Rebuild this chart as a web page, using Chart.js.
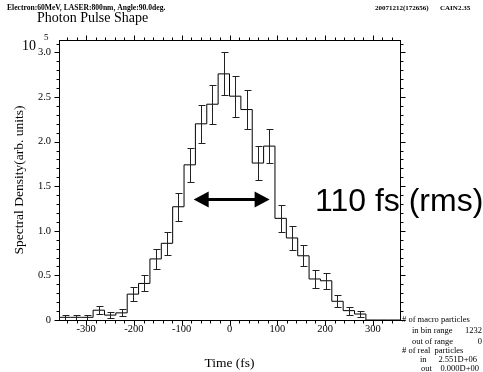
<!DOCTYPE html>
<html>
<head>
<meta charset="utf-8">
<script src="https://cdn.jsdelivr.net/npm/chart.js@4.4.0/dist/chart.umd.min.js"></script>
<style>
  html, body { margin: 0; padding: 0; background: #fff; }
</style>
</head>
<body>
<canvas id="Chart1" width="483" height="372"></canvas>
<script>
// time binning (fs)
var binStart = -357;
var binWidth = 23.8;

// spectral density per bin (x 10^5) and its error
var density = [0.03, 0.03, 0.03, 0.11, 0.055, 0.08, 0.29, 0.41, 0.685, 0.86,
               1.27, 1.74, 2.20, 2.42, 2.76, 2.51, 2.36, 1.76, 1.95, 1.14,
               0.92, 0.72, 0.46, 0.44, 0.21, 0.105, 0.067, 0, 0, 0];
var densityErr = [0.025, 0.025, 0.025, 0.045, 0.03, 0.04, 0.075, 0.09, 0.115, 0.13,
                  0.155, 0.19, 0.215, 0.22, 0.24, 0.23, 0.22, 0.195, 0.19, 0.15,
                  0.135, 0.12, 0.097, 0.09, 0.067, 0.045, 0.03, 0, 0, 0];

var timeLabels = [-300, -200, -100, 0, 100, 200, 300];
var densityLabels = [0, 0.5, 1.0, 1.5, 2.0, 2.5, 3.0];

// rms width marker
var arrowEnds = [-75, 84];
var arrowLevel = 1.35;

// particle statistics box: label, value
var infoLines = [
	['# of macro particles', ''],
	['in bin range', '1232'],
	['out of range', '0'],
	['# of real  particles', ''],
	['in', '2.551D+06'],
	['out', '0.000D+00']
];

// histogram outline: one point per bin edge
var steps = [];
for (var i = 0; i <= density.length; i++) {
	steps.push({ x: binStart + binWidth * i, y: density[Math.min(i, density.length - 1)] });
}

var serif = '"Liberation Serif", "DejaVu Serif", serif';

var decorations = {
	id: 'decorations',
	afterDatasetsDraw: function (chart) {
		var ctx = chart.ctx;
		var xs = chart.scales.x, ys = chart.scales.y;
		var a = chart.chartArea;
		ctx.save();

		// error bars
		ctx.strokeStyle = '#222';
		ctx.lineWidth = 1;
		for (var i = 0; i < density.length; i++) {
			if (density[i] <= 0) continue;
			var px = Math.round(xs.getPixelForValue(binStart + binWidth * (i + 0.5))) + 0.5;
			var top = Math.round(ys.getPixelForValue(density[i] + densityErr[i])) + 0.5;
			var bot = Math.round(ys.getPixelForValue(Math.max(0, density[i] - densityErr[i]))) + 0.5;
			ctx.beginPath();
			ctx.moveTo(px, top); ctx.lineTo(px, bot);
			ctx.moveTo(px - 3, top); ctx.lineTo(px + 4, top);
			ctx.moveTo(px - 3, bot); ctx.lineTo(px + 4, bot);
			ctx.stroke();
		}

		// frame
		ctx.strokeStyle = '#000';
		var L = Math.round(a.left) + 0.5, R = Math.round(a.right) + 0.5;
		var T = Math.round(a.top) + 0.5, B = Math.round(a.bottom) + 0.5;
		ctx.strokeRect(L, T, R - L, B - T);

		// outward ticks, minor every 20 fs / 0.1
		ctx.beginPath();
		for (var t = -340; t <= 340; t += 20) {
			var x = Math.round(xs.getPixelForValue(t)) + 0.5;
			var len = (t % 100 === 0) ? 5 : 3;
			ctx.moveTo(x, B); ctx.lineTo(x, B + len);
			ctx.moveTo(x, T); ctx.lineTo(x, T - len);
		}
		for (var k = 0; k <= 31; k++) {
			var y = Math.round(ys.getPixelForValue(k / 10)) + 0.5;
			var ylen = (k % 5 === 0) ? 5 : 3;
			ctx.moveTo(L, y); ctx.lineTo(L - ylen, y);
			ctx.moveTo(R, y); ctx.lineTo(R + ylen, y);
		}
		ctx.stroke();

		// double arrow
		var x1 = xs.getPixelForValue(arrowEnds[0]);
		var x2 = xs.getPixelForValue(arrowEnds[1]);
		var ay = ys.getPixelForValue(arrowLevel);
		ctx.fillStyle = '#000';
		ctx.lineWidth = 3;
		ctx.beginPath();
		ctx.moveTo(x1 + 10, ay); ctx.lineTo(x2 - 10, ay);
		ctx.stroke();
		ctx.beginPath();
		ctx.moveTo(x1, ay); ctx.lineTo(x1 + 15, ay - 8); ctx.lineTo(x1 + 15, ay + 8); ctx.closePath();
		ctx.moveTo(x2, ay); ctx.lineTo(x2 - 15, ay - 8); ctx.lineTo(x2 - 15, ay + 8); ctx.closePath();
		ctx.fill();

		// texts
		ctx.fillStyle = '#000';
		ctx.textBaseline = 'alphabetic';
		ctx.textAlign = 'left';
		ctx.font = '32px "Liberation Sans", Arial, sans-serif';
		ctx.fillText('110 fs (rms)', 315, 211);

		ctx.font = 'bold 7.6px ' + serif;
		ctx.fillText('Electron:60MeV, LASER:800nm, Angle:90.0deg.', 7, 10);
		ctx.font = 'bold 7px ' + serif;
		ctx.fillText('20071212(172656)', 375, 10);
		ctx.fillText('CAIN2.35', 440, 10);

		ctx.font = '14px ' + serif;
		ctx.fillText('Photon Pulse Shape', 37, 22);

		ctx.fillText('10', 22, 50);
		ctx.font = '9px ' + serif;
		ctx.fillText('5', 44, 40);

		ctx.font = '13.5px ' + serif;
		ctx.textAlign = 'center';
		ctx.fillText('Time (fs)', (a.left + a.right) / 2, 367);
		ctx.save();
		ctx.translate(23, (a.top + a.bottom) / 2);
		ctx.rotate(-Math.PI / 2);
		ctx.fillText('Spectral Density(arb. units)', 0, 0);
		ctx.restore();

		// statistics box
		var labelX = [402, 412, 412, 402, 420, 421];
		var valueX = [0, 482, 482, 0, 477, 479];
		var lineY = [322, 333, 343.5, 353, 362, 371];
		ctx.font = '8.5px ' + serif;
		for (var n = 0; n < infoLines.length; n++) {
			ctx.textAlign = 'left';
			ctx.fillText(infoLines[n][0], labelX[n], lineY[n]);
			ctx.textAlign = 'right';
			if (infoLines[n][1]) ctx.fillText(infoLines[n][1], valueX[n], lineY[n]);
		}
		ctx.restore();
	}
};

var context = document.getElementById("Chart1").getContext("2d");

var myChart = new Chart(context, {

	type: 'line',

	data: {
		datasets: [{
			data: steps,
			borderColor: '#000',
			borderWidth: 1,
			pointRadius: 0,
			stepped: 'before',
			fill: false
		}]
	},

	options: {
		responsive: false,
		animation: false,
		layout: {
			padding: { left: 0, right: 83, top: 40, bottom: 0 }
		},
		plugins: {
			legend: { display: false },
			tooltip: { enabled: false }
		},
		scales: {
			x: {
				type: 'linear',
				min: -357,
				max: 357,
				afterFit: function (s) { s.height = 52; },
				afterBuildTicks: function (s) {
					s.ticks = timeLabels.map(function (v) { return { value: v }; });
				},
				grid: { display: false, drawTicks: false },
				border: { display: false },
				ticks: {
					padding: 3,
					color: '#000',
					maxRotation: 0,
					autoSkip: false,
					font: { family: serif, size: 10.5 },
					callback: function (v) { return String(v); }
				}
			},
			y: {
				type: 'linear',
				min: 0,
				max: 3.14,
				afterFit: function (s) { s.width = 59; },
				afterBuildTicks: function (s) {
					s.ticks = densityLabels.map(function (v) { return { value: v }; });
				},
				grid: { display: false, drawTicks: false },
				border: { display: false },
				ticks: {
					padding: 8,
					color: '#000',
					autoSkip: false,
					font: { family: serif, size: 10.5 },
					callback: function (v) { return v === 0 ? '0' : v.toFixed(1); }
				}
			}
		}
	},

	plugins: [decorations]
});
</script>
</body>
</html>
